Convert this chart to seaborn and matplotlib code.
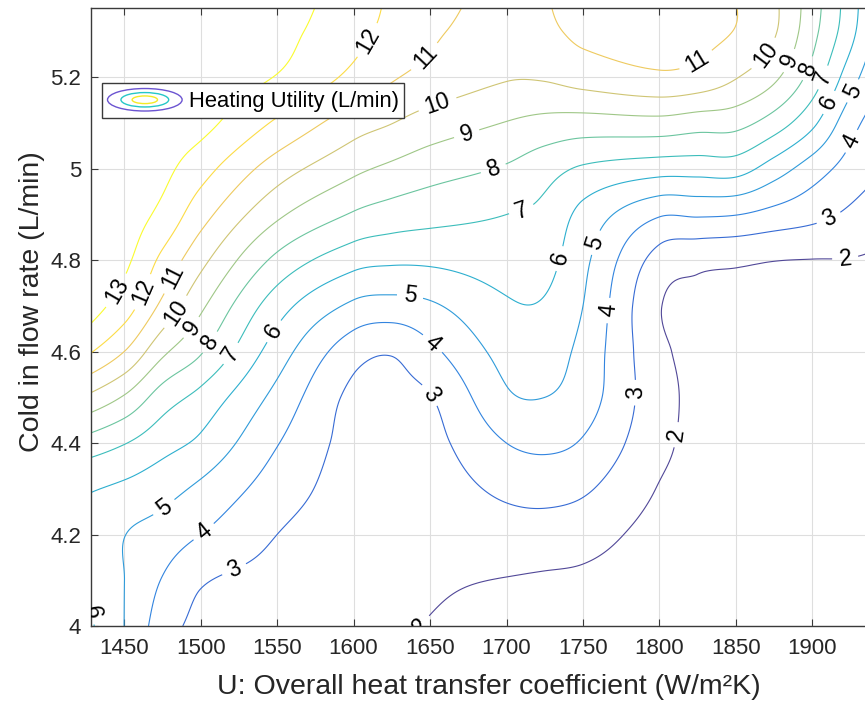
import numpy as np
import matplotlib
matplotlib.use("Agg")
import matplotlib.pyplot as plt
import seaborn as sns
from matplotlib.patches import Ellipse
from matplotlib.legend_handler import HandlerBase
from matplotlib.ticker import FixedLocator

# ---------------------------------------------------------------------------
# Heating utility (L/min) over overall heat-transfer coefficient U (columns)
# and cold inlet flow rate (rows)
# ---------------------------------------------------------------------------
u_coeff = [1400, 1450, 1475, 1500, 1550, 1600, 1625, 1650, 1700,
           1725, 1750, 1800, 1825, 1850, 1875, 1900, 1925, 1950]
cold_flow = [4.0, 4.1, 4.2, 4.3, 4.4, 4.5, 4.6, 4.7, 4.8, 4.9, 5.0, 5.1, 5.2, 5.3, 5.4]

util_f40 = [7.5, 5.0, 3.5, 2.75, 2.5, 2.25, 2.1, 1.97, 1.75, 1.7, 1.6, 1.45, 1.37, 1.3, 1.25, 1.2, 1.15, 1.1]
util_f41 = [7.0, 5.01, 3.95, 3.1, 2.72, 2.35, 2.2, 2.1, 1.97, 1.9, 1.85, 1.6, 1.5, 1.4, 1.35, 1.3, 1.25, 1.2]
util_f42 = [6.6, 5.03, 4.58, 4.0, 3.0, 2.45, 2.35, 2.3, 2.54, 2.54, 2.36, 1.7, 1.6, 1.45, 1.42, 1.4, 1.35, 1.3]
util_f43 = [6.4, 5.8, 5.37, 4.8, 3.52, 2.55, 2.5, 2.5, 3.22, 3.36, 3.15, 1.95, 1.7, 1.5, 1.48, 1.47, 1.43, 1.38]
util_f44 = [8.2, 7.05, 6.37, 5.8, 4.05, 2.65, 2.65, 2.7, 4.0, 4.21, 3.9, 2.25, 1.75, 1.55, 1.55, 1.53, 1.5, 1.45]
util_f45 = [10.8, 8.9, 7.52, 6.7, 4.7, 2.75, 2.8, 2.95, 4.85, 5.0, 4.5, 2.35, 1.8, 1.6, 1.62, 1.6, 1.57, 1.52]
util_f46 = [13.3, 11.0, 9.23, 8.1, 5.5, 3.4, 3.08, 3.76, 5.35, 5.45, 4.7, 2.22, 1.82, 1.7, 1.72, 1.7, 1.66, 1.6]
util_f47 = [14.4, 12.5, 10.77, 9.2, 6.45, 4.8, 4.62, 4.85, 5.88, 5.9, 5.0, 2.06, 1.85, 1.8, 1.82, 1.8, 1.76, 1.7]
util_f48 = [14.2, 13.2, 11.76, 10.3, 7.75, 6.37, 6.17, 6.18, 6.44, 6.33, 5.25, 2.58, 2.24, 2.15, 2.02, 1.98, 1.97, 1.85]
util_f49 = [14.0, 13.45, 12.74, 11.4, 9.2, 7.9, 7.55, 7.34, 7.0, 6.74, 5.7, 4.1, 4.12, 4.03, 3.67, 3.3, 2.82, 2.3]
util_f50 = [14.0, 13.6, 13.25, 12.4, 10.5, 9.23, 8.79, 8.42, 7.89, 7.39, 6.87, 6.42, 6.4, 6.41, 5.5, 4.5, 3.59, 2.9]
util_f51 = [14.0, 13.7, 13.5, 13.3, 11.85, 10.46, 10.02, 9.56, 8.96, 8.7, 8.58, 8.65, 8.43, 8.32, 7.52, 6.22, 4.36, 3.2]
util_f52 = [14.0, 13.75, 13.6, 13.55, 12.95, 11.75, 11.1, 10.7, 10.08, 10.1, 10.42, 10.82, 10.65, 10.05, 9.19, 7.6, 5.42, 3.7]
util_f53 = [14.0, 13.8, 13.7, 13.7, 13.3, 12.3, 11.7, 11.15, 10.6, 10.8, 11.2, 11.35, 11.25, 10.95, 10.1, 8.3, 6.3, 4.0]
util_f54 = [14.0, 13.85, 13.75, 13.8, 13.5, 12.6, 11.9, 11.4, 10.8, 11.0, 11.35, 11.45, 11.35, 10.98, 10.15, 8.5, 6.5, 4.2]

contour_levels = [2, 3, 4, 5, 6, 7, 8, 9, 10, 11, 12, 13]

x_ticks = [1450, 1500, 1550, 1600, 1650, 1700, 1750, 1800, 1850, 1900]
y_ticks = [4.0, 4.2, 4.4, 4.6, 4.8, 5.0, 5.2]
y_tick_labels = ["4", "4.2", "4.4", "4.6", "4.8", "5", "5.2"]

# where the inline contour labels sit (data coordinates)
label_spots = [
    (1445.4, 4.733), (1460.4, 4.733), (1608.8, 5.282),
    (1482.0, 4.763), (1648.8, 5.238), (1827.8, 5.216),
    (1484.6, 4.685), (1654.6, 5.144), (1872.3, 5.242),
    (1494.4, 4.652), (1674.2, 5.074), (1888.6, 5.231),
    (1505.0, 4.623), (1691.2, 5.002), (1899.8, 5.216),
    (1517.4, 4.601), (1708.8, 4.921), (1908.2, 5.198),
    (1546.7, 4.647), (1733.0, 4.805), (1910.2, 5.146), (1433.0, 4.033),
    (1474.8, 4.265), (1637.0, 4.722), (1754.7, 4.842), (1921.5, 5.178),
    (1501.6, 4.208), (1652.0, 4.619), (1763.1, 4.691), (1925.0, 5.061),
    (1522.5, 4.120), (1650.0, 4.505), (1788.6, 4.510), (1911.5, 4.886),
    (1643.5, 4.002), (1811.5, 4.418), (1921.3, 4.809),
]

# parula-like colour ramp
parula_anchors = [
    (0.2081, 0.1663, 0.5292), (0.0591, 0.3598, 0.8683), (0.0723, 0.4887, 0.8467),
    (0.0265, 0.6137, 0.8135), (0.0843, 0.6928, 0.7062), (0.3482, 0.7424, 0.5473),
    (0.6473, 0.7456, 0.4188), (0.8824, 0.7274, 0.3217), (0.9880, 0.8066, 0.1794),
    (0.9763, 0.9831, 0.0538),
]


def smooth_axis(z, coords, new_coords, axis):
    """Cubic Hermite resampling of a (possibly uneven) grid along one axis."""
    z = np.moveaxis(np.asarray(z, float), axis, 0)
    c = np.asarray(coords, float)
    shape = (-1,) + (1,) * (z.ndim - 1)
    n = len(c)
    m = np.empty_like(z)
    m[1:-1] = (z[2:] - z[:-2]) / (c[2:] - c[:-2]).reshape(shape)
    m[0] = (z[1] - z[0]) / (c[1] - c[0])
    m[-1] = (z[-1] - z[-2]) / (c[-1] - c[-2])
    i = np.clip(np.searchsorted(c, new_coords, side="right") - 1, 0, n - 2)
    h = (c[i + 1] - c[i]).reshape(shape)
    t = ((new_coords - c[i]) / (c[i + 1] - c[i])).reshape(shape)
    h00 = 2 * t ** 3 - 3 * t ** 2 + 1
    h10 = t ** 3 - 2 * t ** 2 + t
    h01 = -2 * t ** 3 + 3 * t ** 2
    h11 = t ** 3 - t ** 2
    out = h00 * z[i] + h10 * h * m[i] + h01 * z[i + 1] + h11 * h * m[i + 1]
    return np.moveaxis(out, 0, axis)


class ContourKey(HandlerBase):
    """Legend key made of three nested ellipses."""

    def __init__(self, colours):
        super().__init__()
        self.colours = colours

    def create_artists(self, legend, orig_handle, xdescent, ydescent,
                       width, height, fontsize, trans):
        cx = 0.5 * width - xdescent
        cy = 0.5 * height - ydescent
        arts = []
        for frac, col in zip([1.0, 0.64, 0.34], self.colours):
            e = Ellipse((cx, cy), width * frac, height * frac,
                        facecolor="none", edgecolor=col, lw=1.0, transform=trans)
            arts.append(e)
        return arts


sns.set_style("ticks")
plt.rcParams["font.family"] = ["Liberation Sans", "DejaVu Sans"]

surface = np.array([util_f40, util_f41, util_f42, util_f43, util_f44, util_f45,
                    util_f46, util_f47, util_f48, util_f49, util_f50, util_f51,
                    util_f52, util_f53, util_f54])
xs = np.linspace(u_coeff[0], u_coeff[-1], 551)
ys = np.linspace(cold_flow[0], cold_flow[-1], 281)
zz = smooth_axis(smooth_axis(surface, cold_flow, ys, 0), u_coeff, xs, 1)

base = np.array(sns.blend_palette(parula_anchors, n_colors=len(contour_levels)))
level_colours = [tuple(c) for c in 0.86 * base[:, :3] + 0.14]

fig = plt.figure(figsize=(8.65, 7.09), dpi=100)
ax = fig.add_axes([0.1049, 0.1171, 0.9125, 0.8712])

ink = "#262626"
cs = ax.contour(xs, ys, zz, levels=contour_levels, colors=level_colours,
                linewidths=0.8)
ax.clabel(cs, contour_levels, inline=True, fmt="%d", fontsize=16.5,
          colors="black", manual=label_spots, inline_spacing=6)

ax.set_xlim(1428.2, 1944.2)
ax.set_ylim(4.0, 5.351)
ax.xaxis.set_major_locator(FixedLocator(x_ticks))
ax.set_yticks(y_ticks)
ax.set_yticklabels(y_tick_labels)

ax.grid(True, color="#dedede", linewidth=0.8)
ax.set_axisbelow(True)
for side in ["left", "right", "top", "bottom"]:
    ax.spines[side].set_color("#3a3a3a")
    ax.spines[side].set_linewidth(1.0)
ax.tick_params(direction="in", length=5, width=0.8, top=True, right=True,
               labelsize=16, color="#3a3a3a", labelcolor=ink)
ax.tick_params(axis="x", pad=9)
ax.tick_params(axis="y", pad=7)

ax.set_xlabel("U: Overall heat transfer coefficient (W/m²K)", fontsize=20.5,
              color=ink)
ax.set_ylabel("Cold in flow rate (L/min)", fontsize=20.5, color=ink)
ax.xaxis.set_label_coords(0.5046, -0.078)
ax.yaxis.set_label_coords(-0.058, 0.5245)

key = Ellipse((0, 0), 1, 1)
leg = ax.legend([key], ["Heating Utility (L/min)"],
                handler_map={key: ContourKey([(0.42, 0.33, 0.82),
                                              (0.15, 0.78, 0.78),
                                              (0.96, 0.92, 0.15)])},
                loc="upper left", bbox_to_anchor=(0.0143, 0.879),
                borderaxespad=0, fontsize=15.8, handlelength=3.4,
                handleheight=1.2, handletextpad=0.3, borderpad=0.25,
                fancybox=False, framealpha=1, edgecolor="#3a3a3a")
leg.get_frame().set_linewidth(1.0)
for txt in leg.get_texts():
    txt.set_color("black")

fig.savefig("out.png", dpi=100, facecolor="white")
